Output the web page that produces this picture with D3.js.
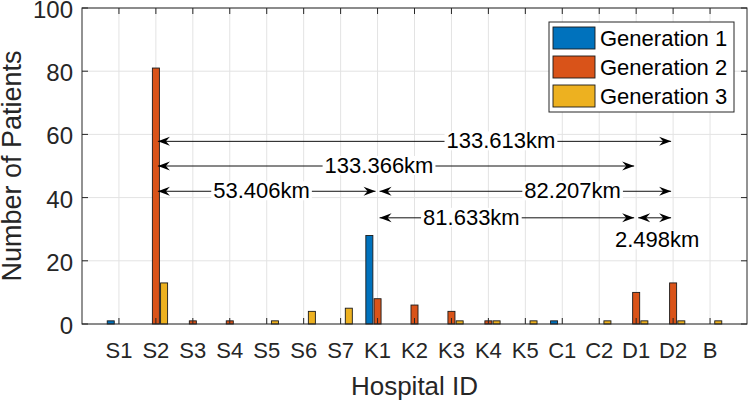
<!DOCTYPE html>
<html>
<head>
<meta charset="utf-8">
<script src="https://cdn.jsdelivr.net/npm/d3@7"></script>
<style>
  body { margin: 0; background: #fff; }
  text { font-family: "Liberation Sans", Arial, Helvetica, sans-serif; fill: #262626; }
</style>
</head>
<body>
<script>
// hospital categories and patient counts per generation
var categories = ["S1", "S2", "S3", "S4", "S5", "S6", "S7", "K1", "K2", "K3", "K4", "K5", "C1", "C2", "D1", "D2", "B"];
var gen1 = [1, 0, 0, 0, 0, 0, 0, 28, 0, 0, 0, 0, 1, 0, 0, 0, 0];
var gen2 = [0, 81, 1, 1, 0, 0, 0, 8, 6, 4, 1, 0, 0, 0, 10, 13, 0];
var gen3 = [0, 13, 0, 0, 1, 4, 5, 0, 0, 1, 1, 1, 0, 1, 1, 1, 1];
var seriesNames = ["Generation 1", "Generation 2", "Generation 3"];
var seriesColors = ["#0072BD", "#D95319", "#EDB120"];
var yTicks = [0, 20, 40, 60, 80, 100];

// distance annotations between hospitals
var distLabels = ["133.613km", "133.366km", "53.406km", "82.207km", "81.633km", "2.498km"];
var distFrom = ["S2", "S2", "S2", "K1", "K1", "D1"];
var distTo = ["D2", "D1", "K1", "D2", "D1", "D2"];
var distY = [57.8, 50, 42, 42, 33.6, 33.6];
var labelX = [11.34, 8.04, 4.86, 13.28, 10.54, 15.57];
var labelY = [57.8, 50, 42, 42, 33.6, 26.5];

var width = 748, height = 400;
var plotL = 82, plotR = 747, plotT = 8, plotB = 324;

var svg = d3.select("body").append("svg")
    .attr("width", width)
    .attr("height", height);

var x = d3.scaleLinear().domain([0, categories.length + 1]).range([plotL, plotR]);
var y = d3.scaleLinear().domain([0, 100]).range([plotB, plotT]);

function catX(name) { return x(categories.indexOf(name) + 1); }

//grid lines
svg.append("g").selectAll("line")
    .data(categories)
    .enter().append("line")
    .attr("x1", function(d, i){ return x(i + 1); })
    .attr("x2", function(d, i){ return x(i + 1); })
    .attr("y1", plotT).attr("y2", plotB)
    .attr("stroke", "#e3e3e3").attr("stroke-width", 1);
svg.append("g").selectAll("line")
    .data(yTicks)
    .enter().append("line")
    .attr("x1", plotL).attr("x2", plotR)
    .attr("y1", function(d){ return y(d); })
    .attr("y2", function(d){ return y(d); })
    .attr("stroke", "#e3e3e3").attr("stroke-width", 1);

//grouped bars
var offsets = [-0.222, 0, 0.222];
var barW = x(0.19) - x(0);
[gen1, gen2, gen3].forEach(function(vals, s){
    svg.append("g").selectAll("rect")
        .data(vals.map(function(v, i){ return {v: v, i: i}; }).filter(function(d){ return d.v > 0; }))
        .enter().append("rect")
        .attr("x", function(d){ return x(d.i + 1 + offsets[s]) - barW / 2; })
        .attr("y", function(d){ return y(d.v); })
        .attr("width", barW)
        .attr("height", function(d){ return y(0) - y(d.v); })
        .attr("fill", seriesColors[s])
        .attr("stroke", "#1a1a1a")
        .attr("stroke-width", 0.9);
});

//axes box with inward ticks on all sides
var tickLen = 6;
var axisG = svg.append("g").attr("stroke", "#262626").attr("stroke-width", 1);
axisG.append("rect")
    .attr("x", plotL).attr("y", plotT)
    .attr("width", plotR - plotL).attr("height", plotB - plotT)
    .attr("fill", "none");
categories.forEach(function(c, i){
    var px = x(i + 1);
    axisG.append("line").attr("x1", px).attr("x2", px).attr("y1", plotB).attr("y2", plotB - tickLen);
    axisG.append("line").attr("x1", px).attr("x2", px).attr("y1", plotT).attr("y2", plotT + tickLen);
});
yTicks.forEach(function(t){
    var py = y(t);
    axisG.append("line").attr("x1", plotL).attr("x2", plotL + tickLen).attr("y1", py).attr("y2", py);
    axisG.append("line").attr("x1", plotR).attr("x2", plotR - tickLen).attr("y1", py).attr("y2", py);
});

//tick labels
svg.append("g").selectAll("text")
    .data(categories)
    .enter().append("text")
    .attr("x", function(d, i){ return x(i + 1); })
    .attr("y", plotB + 34)
    .attr("text-anchor", "middle")
    .style("font-size", "22px")
    .text(function(d){ return d; });
svg.append("g").selectAll("text")
    .data(yTicks)
    .enter().append("text")
    .attr("x", plotL - 9)
    .attr("y", function(d){ return y(d) + 10; })
    .attr("text-anchor", "end")
    .style("font-size", "24px")
    .text(function(d){ return d; });

//axis titles
svg.append("text")
    .attr("x", (plotL + plotR) / 2)
    .attr("y", 395)
    .attr("text-anchor", "middle")
    .style("font-size", "26px")
    .text("Hospital ID");
svg.append("text")
    .attr("transform", "translate(21," + ((plotT + plotB) / 2) + ") rotate(-90)")
    .attr("text-anchor", "middle")
    .style("font-size", "27px")
    .text("Number of Patients");

//arrow heads
var defs = svg.append("defs");
defs.append("marker")
    .attr("id", "head")
    .attr("viewBox", "-13 -6 14 12")
    .attr("refX", 0).attr("refY", 0)
    .attr("markerWidth", 14).attr("markerHeight", 12)
    .attr("markerUnits", "userSpaceOnUse")
    .attr("orient", "auto-start-reverse")
    .append("path")
    .attr("d", "M0,0 L-12,-4.5 L-8,0 L-12,4.5 Z")
    .attr("fill", "#000");

//distance arrows
var ann = svg.append("g");
distLabels.forEach(function(lab, i){
    ann.append("line")
        .attr("x1", catX(distFrom[i]) + 2)
        .attr("x2", catX(distTo[i]) - 2)
        .attr("y1", y(distY[i]))
        .attr("y2", y(distY[i]))
        .attr("stroke", "#111")
        .attr("stroke-width", 1)
        .attr("marker-start", "url(#head)")
        .attr("marker-end", "url(#head)");
});
distLabels.forEach(function(lab, i){
    var t = ann.append("text")
        .attr("x", x(labelX[i]))
        .attr("y", y(labelY[i]) + 7)
        .attr("text-anchor", "middle")
        .style("font-size", "22px")
        .style("fill", "#000")
        .text(lab);
    var bb = t.node().getBBox();
    ann.insert("rect", function(){ return t.node(); })
        .attr("x", bb.x - 2).attr("y", bb.y + 3)
        .attr("width", bb.width + 4).attr("height", bb.height - 6)
        .attr("fill", "#fff");
});

//legend
var lg = svg.append("g");
lg.append("rect")
    .attr("x", 549).attr("y", 22)
    .attr("width", 185).attr("height", 90)
    .attr("fill", "#fff")
    .attr("stroke", "#262626").attr("stroke-width", 1);
seriesNames.forEach(function(n, i){
    lg.append("rect")
        .attr("x", 553).attr("y", 27 + i * 29)
        .attr("width", 42).attr("height", 22)
        .attr("fill", seriesColors[i])
        .attr("stroke", "#1a1a1a").attr("stroke-width", 0.9);
    lg.append("text")
        .attr("x", 600).attr("y", 46 + i * 29)
        .style("font-size", "22px")
        .style("fill", "#000")
        .text(n);
});
</script>
</body>
</html>
